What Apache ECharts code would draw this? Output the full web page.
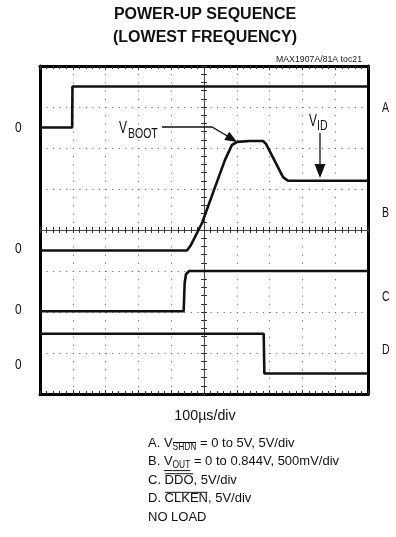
<!DOCTYPE html>
<html>
<head>
<meta charset="utf-8">
<script src="https://cdn.jsdelivr.net/npm/echarts@6/dist/echarts.min.js"></script>
<style>
html,body{margin:0;padding:0;background:#fff;}
#c{width:396px;height:537px;}
</style>
</head>
<body>
<div id="c"></div>
<script>
// ---- data (in scope divisions) ----
const traceA = [[0, 6.5], [0.98, 6.5], [0.99, 7.5], [10, 7.5]];          // V_SHDN, 5V/div
const traceB = [[0, 3.5], [4.48, 3.5], [4.6, 3.63], [4.94, 4.17], [5.27, 4.9], [5.64, 5.71],
                [5.85, 6.07], [6.01, 6.15], [6.4, 6.17], [6.8, 6.17], [6.89, 6.1],
                [7.41, 5.29], [7.56, 5.2], [10, 5.2]];                     // V_OUT, 500mV/div
const traceC = [[0, 2.02], [4.38, 2.02], [4.41, 2.7], [4.45, 2.92], [4.55, 3.0], [10, 3.0]]; // DDO
const traceD = [[0, 1.47], [6.82, 1.47], [6.84, 0.5], [10, 0.5]];         // CLKEN
const traceNames = ['A', 'B', 'C', 'D'];
const zeroLabels = ['0', '0', '0', '0'];
const titleLines = ['POWER-UP SEQUENCE', '(LOWEST FREQUENCY)'];
const tocLabel = 'MAX1907A/81A toc21';
const timebase = '100\u00b5s/div';
// legend lines: [text, mode] where mode: '' normal, 's' subscript, 'o' overline, 'so' sub+overline, 'su' sub+underline
const legendLines = [
  [['A. ', ''], ['V', ''], ['SHDN', 'so'], [' = 0 to 5V, 5V/div', '']],
  [['B. ', ''], ['V', 'u'], ['OUT', 'su'], [' = 0 to 0.844V, 500mV/div', '']],
  [['C. ', ''], ['DDO', 'o'], [', 5V/div', '']],
  [['D. ', ''], ['CLKEN', 'o'], [', 5V/div', '']],
  [['NO LOAD', '']]
];
const xDivs = 10, yDivs = 8;

const FONT = '"Liberation Sans", Arial, sans-serif';
const chart = echarts.init(document.getElementById('c'), null, {renderer: 'canvas'});

const dotX = {type: [1, 5.56], color: '#555', width: 1};
const dotY = {type: [1, 7.2], color: '#555', width: 1};
function xAx(extra) {
  return Object.assign({
    type: 'value', min: 0, max: xDivs, interval: 1, gridIndex: 0,
    axisLabel: {show: false}, splitLine: {show: false},
    axisLine: {show: true, onZero: false, lineStyle: {color: '#000', width: 3}},
    axisTick: {show: false}, minorTick: {show: false}
  }, extra);
}
function yAx(extra) {
  return Object.assign({
    type: 'value', min: 0, max: yDivs, interval: 1, gridIndex: 0,
    axisLabel: {show: false}, splitLine: {show: false},
    axisLine: {show: true, onZero: false, lineStyle: {color: '#000', width: 3}},
    axisTick: {show: false}, minorTick: {show: false}
  }, extra);
}
const tickStyle = {color: '#333', width: 1};

const xAxes = [
  xAx({position: 'bottom', splitLine: {show: true, lineStyle: dotY},
       axisTick: {show: true, inside: true, length: 4, lineStyle: tickStyle},
       minorTick: {show: true, splitNumber: 5, length: 3, lineStyle: tickStyle}}),
  xAx({position: 'top',
       axisTick: {show: true, inside: true, length: 4, lineStyle: tickStyle},
       minorTick: {show: true, splitNumber: 5, length: 3, lineStyle: tickStyle}}),
  xAx({position: 'bottom', offset: -(328 / 2),
       axisLine: {show: true, onZero: false, lineStyle: {color: '#444', width: 1}},
       axisTick: {show: true, inside: true, length: 3, lineStyle: tickStyle},
       minorTick: {show: true, splitNumber: 5, length: 3, lineStyle: tickStyle}}),
  xAx({position: 'bottom', offset: -(328 / 2),
       axisLine: {show: false},
       axisTick: {show: true, inside: false, length: 3, lineStyle: tickStyle},
       minorTick: {show: true, splitNumber: 5, length: 3, lineStyle: tickStyle}})
];
const yAxes = [
  yAx({position: 'left', splitLine: {show: true, lineStyle: dotX}}),
  yAx({position: 'right'}),
  yAx({position: 'left', offset: -(328 / 2),
       axisLine: {show: true, onZero: false, lineStyle: {color: '#444', width: 1}},
       axisTick: {show: true, inside: true, length: 3, lineStyle: tickStyle},
       minorTick: {show: true, splitNumber: 5, length: 3, lineStyle: tickStyle}}),
  yAx({position: 'left', offset: -(328 / 2),
       axisLine: {show: false},
       axisTick: {show: true, inside: false, length: 3, lineStyle: tickStyle},
       minorTick: {show: true, splitNumber: 5, length: 3, lineStyle: tickStyle}})
];

function trace(name, data) {
  return {
    name: name, type: 'line', data: data, xAxisIndex: 0, yAxisIndex: 0,
    showSymbol: false, symbol: 'none', animation: false, z: 5,
    lineStyle: {color: '#111', width: 2.6}
  };
}

function txt(x, y, text, size, opts) {
  opts = opts || {};
  return {
    type: 'text', x: x, y: y, scaleX: opts.sx || 1, z: 20,
    style: {
      text: text, fill: opts.fill || '#111', align: opts.align || 'left',
      verticalAlign: 'middle',
      font: (opts.weight || 'normal') + ' ' + size + 'px ' + FONT
    }
  };
}
function seg(x1, y1, x2, y2, w) {
  return {type: 'line', z: 20, shape: {x1: x1, y1: y1, x2: x2, y2: y2},
          style: {stroke: '#111', lineWidth: w || 1}};
}

// measure helper for laying out the legend text pieces
const mctx = document.createElement('canvas').getContext('2d');
function measure(t, size) { mctx.font = size + 'px ' + FONT; return mctx.measureText(t).width; }

const graphics = [
  txt(205, 15, titleLines[0], 16, {align: 'center', weight: 'bold'}),
  txt(205, 38, titleLines[1], 16, {align: 'center', weight: 'bold'}),
  txt(362, 59, tocLabel, 9.5, {align: 'right', sx: 0.92, fill: '#222'}),
  // left zero markers
  txt(15, 128, zeroLabels[0], 14, {sx: 0.85}),
  txt(15, 249, zeroLabels[1], 14, {sx: 0.85}),
  txt(15, 310, zeroLabels[2], 14, {sx: 0.85}),
  txt(15, 365, zeroLabels[3], 14, {sx: 0.85}),
  // right trace names
  txt(382, 108, traceNames[0], 14, {sx: 0.75}),
  txt(382, 213, traceNames[1], 14, {sx: 0.75}),
  txt(382, 297, traceNames[2], 14, {sx: 0.75}),
  txt(382, 350, traceNames[3], 14, {sx: 0.75}),
  // V_BOOT annotation
  txt(119, 128, 'V', 17, {sx: 0.7}),
  txt(128, 134, 'BOOT', 14, {sx: 0.75}),
  {type: 'polyline', z: 20, shape: {points: [[162, 127], [212, 127], [229, 137]]},
   style: {stroke: '#111', lineWidth: 1.3, fill: null}},
  {type: 'polygon', z: 20, shape: {points: [[229.3, 131.8], [224.2, 139.9], [237, 142]]},
   style: {fill: '#111'}},
  // V_ID annotation
  txt(309, 121, 'V', 17, {sx: 0.7}),
  txt(317, 126, 'ID', 14, {sx: 0.75}),
  seg(320, 133, 320, 167, 1.3),
  {type: 'polygon', z: 20, shape: {points: [[314.5, 164], [325.5, 164], [320, 178]]},
   style: {fill: '#111'}},
  // time base
  txt(205, 416, timebase, 15, {align: 'center', sx: 0.95})
];

// legend block
const legendX = 148, legendY0 = 443, legendDy = 18.6, baseSize = 13, subSize = 10.5, subSx = 0.8;
legendLines.forEach(function (line, i) {
  let x = legendX;
  const y = legendY0 + i * legendDy;
  line.forEach(function (piece) {
    const t = piece[0], mode = piece[1];
    const isSub = mode.indexOf('s') >= 0;
    const size = isSub ? subSize : baseSize;
    const sx = isSub ? subSx : 1;
    const w = measure(t, size) * sx;
    const yy = isSub ? y + 4 : y;
    graphics.push(txt(x, yy, t, size, {sx: sx}));
    if (mode.indexOf('o') >= 0) {
      const oy = isSub ? yy - 4.5 : y - 6.5;
      graphics.push(seg(x + 0.5, oy, x + w - 0.5, oy, 1));
    }
    if (mode.indexOf('u') >= 0) {
      const uy = y + 9;
      graphics.push(seg(x, uy, x + w, uy, 1));
    }
    x += w;
  });
});

chart.setOption({
  animation: false,
  backgroundColor: '#fff',
  grid: {left: 40, top: 66, width: 328, height: 328, containLabel: false, outerBoundsMode: 'none'},
  xAxis: xAxes,
  yAxis: yAxes,
  series: [trace('A', traceA), trace('B', traceB), trace('C', traceC), trace('D', traceD)],
  graphic: graphics
});
</script>
</body>
</html>
